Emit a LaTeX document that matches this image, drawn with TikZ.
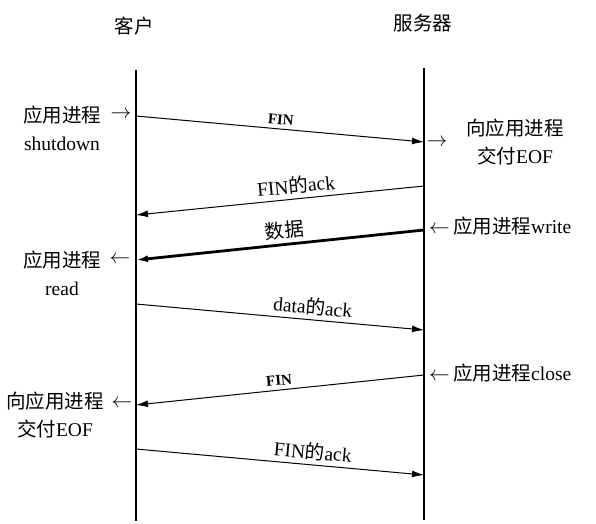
\documentclass[tikz,border=0pt]{standalone}
\usepackage{fontspec}
\setmainfont{Liberation Serif}
\newfontfamily\cjk{Noto Sans CJK SC}
\newcommand\zh[1]{{\cjk #1}}
\usetikzlibrary{arrows.meta}

\begin{document}
\begin{tikzpicture}[
        x=1pt, y=-1pt,
        font=\fontsize{19.5}{28}\selectfont,
        lane/.style={line width=1.4pt},
        msg/.style={line width=1pt, -{Latex[length=12pt,width=7pt]}},
        bigmsg/.style={msg, line width=2.8pt},
        tag/.style={above=3pt, sloped, inner sep=1pt},
        fintag/.style={tag, font=\fontsize{15}{17}\selectfont\bfseries},
        note/.style={align=center, inner sep=0pt}
    ]
    \useasboundingbox (0,0) rectangle (596,523);

    \node (client) at (134,26) {\zh{客户}};
    \node (server) at (423,23) {\zh{服务器}};

    \coordinate (ctop) at (136,70);
    \coordinate (cbot) at (136,521);
    \coordinate (stop) at (424,68);
    \coordinate (sbot) at (424,520);
    \draw[lane] (ctop) -- (cbot);
    \draw[lane] (stop) -- (sbot);

    \coordinate (c1) at (136,116);
    \coordinate (s1) at (424,142);
    \coordinate (s2) at (424,186);
    \coordinate (c2) at (136,215);
    \coordinate (s3) at (424,230);
    \coordinate (c3) at (136,260);
    \coordinate (c4) at (136,304);
    \coordinate (s4) at (424,330);
    \coordinate (s5) at (424,375);
    \coordinate (c5) at (136,405);
    \coordinate (c6) at (136,449);
    \coordinate (s6) at (424,475);

    \draw[msg] (c1) -- node[fintag, pos=.5] {FIN} (s1);
    \draw[msg] (s2) -- node[tag, pos=.44] {FIN\zh{的}ack} (c2);
    \draw[bigmsg] (s3) -- node[tag, pos=.48] {\zh{数据}} (c3);
    \draw[msg] (c4) -- node[tag, pos=.61] {data\zh{的}ack} (s4);
    \draw[msg] (s5) -- node[fintag, pos=.5] {FIN} (c5);
    \draw[msg] (c6) -- node[tag, pos=.61] {FIN\zh{的}ack} (s6);

    \node[note] (shut) at (62,128) {\zh{应用进程}\\shutdown};
    \node (shutarr) at (121,115) {$\rightarrow$};
    \node (eofarr) at (437,143) {$\rightarrow$};
    \node[note] (eof) at (515,142) {\zh{向应用进程}\\\zh{交付}EOF};
    \node[anchor=west, inner sep=0pt] (write) at (429,226) {$\leftarrow$\,\zh{应用进程}write};
    \node[note] (read) at (62,273) {\zh{应用进程}\\read};
    \node (readarr) at (120,260) {$\leftarrow$};
    \node[anchor=west, inner sep=0pt] (close) at (429,373) {$\leftarrow$\,\zh{应用进程}close};
    \node[note] (ceof) at (55,415) {\zh{向应用进程}\\\zh{交付}EOF};
    \node (ceofarr) at (122,404) {$\leftarrow$};
\end{tikzpicture}
\end{document}
